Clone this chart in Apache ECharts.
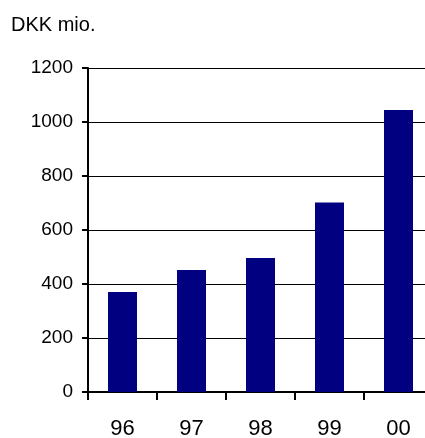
<!DOCTYPE html>
<html>
<head>
<meta charset="utf-8">
<script src="https://cdn.jsdelivr.net/npm/echarts@6/dist/echarts.min.js"></script>
<style>
html,body{margin:0;padding:0;background:#fff;}
#c{width:425px;height:438px;}
</style>
</head>
<body>
<div id="c"></div>
<script>
const categories = ['96', '97', '98', '99', '00'];
const values = [370, 452, 496, 702, 1044];
const yTicks = { min: 0, max: 1200, interval: 200 };
const unitLabel = 'DKK mio.';

const chart = echarts.init(document.getElementById('c'), null, { renderer: 'canvas' });
chart.setOption({
  animation: false,
  backgroundColor: '#ffffff',
  textStyle: { fontFamily: 'Liberation Sans, Arial, sans-serif' },
  title: {
    text: unitLabel,
    left: 6,
    top: 10,
    textStyle: { fontFamily: 'Liberation Sans, Arial, sans-serif', fontSize: 20, fontWeight: 'normal', color: '#000' }
  },
  grid: { left: 88, top: 68, width: 345, height: 324, containLabel: false, outerBoundsMode: 'none' },
  xAxis: {
    type: 'category',
    data: categories,
    boundaryGap: true,
    axisLine: { lineStyle: { color: '#000', width: 2 } },
    axisTick: { show: true, length: 8, lineStyle: { color: '#000', width: 2 } },
    axisLabel: { color: '#000', fontSize: 22, margin: 26, fontFamily: 'Liberation Sans, Arial, sans-serif' },
    splitLine: { show: false }
  },
  yAxis: {
    type: 'value',
    min: yTicks.min,
    max: yTicks.max,
    interval: yTicks.interval,
    axisLine: { show: true, lineStyle: { color: '#000', width: 2 } },
    axisTick: { show: true, length: 6, lineStyle: { color: '#000', width: 2 } },
    axisLabel: { color: '#000', fontSize: 19, margin: 15, fontFamily: 'Liberation Sans, Arial, sans-serif', formatter: function (v) { return String(v); } },
    splitLine: { show: true, lineStyle: { color: '#000', width: 1 } }
  },
  series: [{
    type: 'bar',
    data: values,
    barWidth: 29,
    itemStyle: { color: '#000080' }
  }]
});
</script>
</body>
</html>
